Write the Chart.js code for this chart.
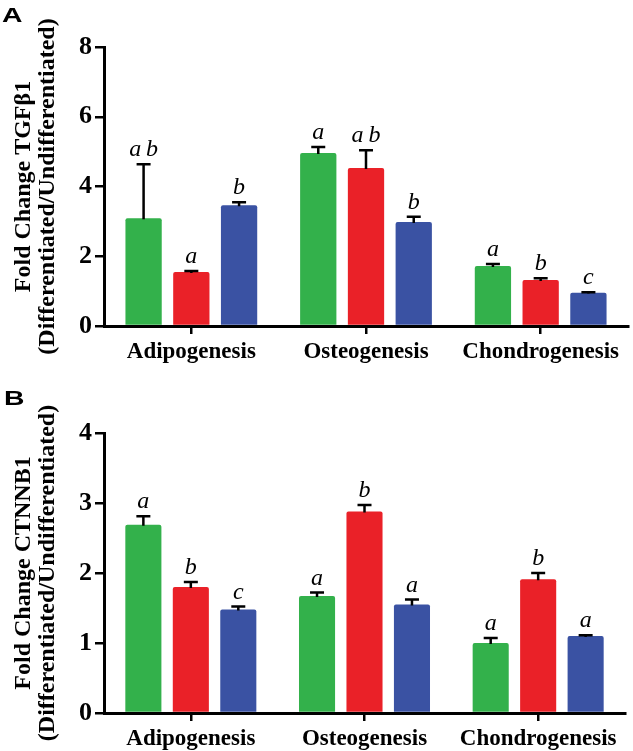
<!DOCTYPE html>
<html>
<head>
<meta charset="utf-8">
<script src="https://cdn.jsdelivr.net/npm/chart.js@4"></script>
<style>
  body { margin: 0; background: #fff; }
  .panel { position: absolute; left: 0; width: 633px; }
  .tag { position: absolute; font: bold 21px/1 "Liberation Sans", Arial, sans-serif; color: #000;
         transform: scaleX(1.35); transform-origin: left top; }
</style>
</head>
<body>
<div class="panel" style="top:0;height:370px"><canvas id="chartA" width="633" height="370"></canvas></div>
<div class="panel" style="top:370px;height:381px"><canvas id="chartB" width="633" height="381"></canvas></div>
<div class="tag" style="left:2px;top:4px">A</div>
<div class="tag" style="left:4px;top:387px">B</div>
<script>
// ──────── DATA ────────
const categories = ["Adipogenesis", "Osteogenesis", "Chondrogenesis"];

// Panel A: TGFβ1
const tgfGreen = [3.09, 4.96, 1.72];
const tgfRed = [1.55, 4.53, 1.32];
const tgfBlue = [3.46, 2.98, 0.95];
const tgfGreenErr = [1.55, 0.17, 0.06];
const tgfRedErr = [0.03, 0.51, 0.05];
const tgfBlueErr = [0.09, 0.15, 0.02];
const tgfGreenTags = ["ab", "a", "a"];
const tgfRedTags = ["a", "ab", "b"];
const tgfBlueTags = ["b", "b", "c"];
const tgfTicks = [0, 2, 4, 6, 8];

// Panel B: CTNNB1
const ctnGreen = [2.69, 1.67, 1.00];
const ctnRed = [1.80, 2.88, 1.91];
const ctnBlue = [1.48, 1.55, 1.10];
const ctnGreenErr = [0.12, 0.05, 0.07];
const ctnRedErr = [0.07, 0.09, 0.09];
const ctnBlueErr = [0.04, 0.07, 0.01];
const ctnGreenTags = ["a", "a", "a"];
const ctnRedTags = ["b", "b", "b"];
const ctnBlueTags = ["c", "a", "a"];
const ctnTicks = [0, 1, 2, 3, 4];

// ──────── STYLE ────────
const GREEN = "#33b14b", RED = "#ea2128", BLUE = "#3a52a3";
const SERIF = '"Liberation Serif", "Times New Roman", serif';

// error bars + significance letters drawn from the bar elements
const errPlugin = {
  id: "errLetters",
  afterDatasetsDraw(chart) {
    const ctx = chart.ctx;
    const y = chart.scales.y;
    ctx.save();
    chart.data.datasets.forEach((ds, i) => {
      const meta = chart.getDatasetMeta(i);
      meta.data.forEach((bar, j) => {
        const top = y.getPixelForValue(ds.data[j] + ds.err[j]);
        const base = y.getPixelForValue(ds.data[j]);
        ctx.strokeStyle = "#000";
        ctx.lineWidth = 2.5;
        ctx.beginPath();
        ctx.moveTo(bar.x, base + 1);
        ctx.lineTo(bar.x, top);
        ctx.moveTo(bar.x - 7, top);
        ctx.lineTo(bar.x + 7, top);
        ctx.stroke();
        ctx.fillStyle = "#000";
        ctx.font = "italic 24px " + SERIF;
        ctx.textAlign = "center";
        ctx.textBaseline = "alphabetic";
        ctx.fillText(ds.tags[j].split("").join("\u2009"), bar.x, top - 8);
      });
    });
    ctx.restore();
  }
};

const makeChart = (id, series, ticks, titleLines, padTop, xHeight, padRight) => {
  const colors = [GREEN, RED, BLUE];
  new Chart(document.getElementById(id), {
    type: "bar",
    data: {
      labels: categories,
      datasets: series.map((s, i) => ({
        data: s.vals,
        err: s.err,
        tags: s.tags,
        backgroundColor: colors[i],
        borderRadius: { topLeft: 2, topRight: 2 },
        categoryPercentage: 0.82,
        barPercentage: 0.76
      }))
    },
    options: {
      responsive: false,
      animation: false,
      layout: { padding: { top: padTop, right: padRight, left: 0, bottom: 0 } },
      plugins: { legend: { display: false }, tooltip: { enabled: false } },
      scales: {
        x: {
          grid: { offset: false, drawOnChartArea: false, tickLength: 8, color: "#000", lineWidth: 2.5 },
          border: { display: true, color: "#000", width: 3 },
          ticks: { color: "#000", padding: 4, font: { family: SERIF, size: 23, weight: "bold" } },
          afterFit: s => { s.height = xHeight; }
        },
        y: {
          min: ticks[0],
          max: ticks[ticks.length - 1],
          afterBuildTicks: s => { s.ticks = ticks.map(v => ({ value: v })); },
          grid: { drawOnChartArea: false, tickLength: 9, color: "#000", lineWidth: 2.5 },
          border: { display: true, color: "#000", width: 3 },
          ticks: { color: "#000", padding: 3, font: { family: SERIF, size: 26, weight: "bold" } },
          title: {
            display: true,
            text: titleLines,
            color: "#000",
            padding: { top: 12, bottom: 0 },
            font: { family: SERIF, size: 24, weight: "bold", lineHeight: 1.0 }
          },
          afterFit: s => { s.width = 104; }
        }
      }
    },
    plugins: [errPlugin]
  });
};

makeChart("chartA", [
  { vals: tgfGreen, err: tgfGreenErr, tags: tgfGreenTags },
  { vals: tgfRed, err: tgfRedErr, tags: tgfRedTags },
  { vals: tgfBlue, err: tgfBlueErr, tags: tgfBlueTags }
], tgfTicks, ["Fold Change TGFβ1", "(Differentiated/Undifferentiated)"], 47, 44, 5);

makeChart("chartB", [
  { vals: ctnGreen, err: ctnGreenErr, tags: ctnGreenTags },
  { vals: ctnRed, err: ctnRedErr, tags: ctnRedTags },
  { vals: ctnBlue, err: ctnBlueErr, tags: ctnBlueTags }
], ctnTicks, ["Fold Change CTNNB1", "(Differentiated/Undifferentiated)"], 63, 38, 8);
</script>
</body>
</html>
